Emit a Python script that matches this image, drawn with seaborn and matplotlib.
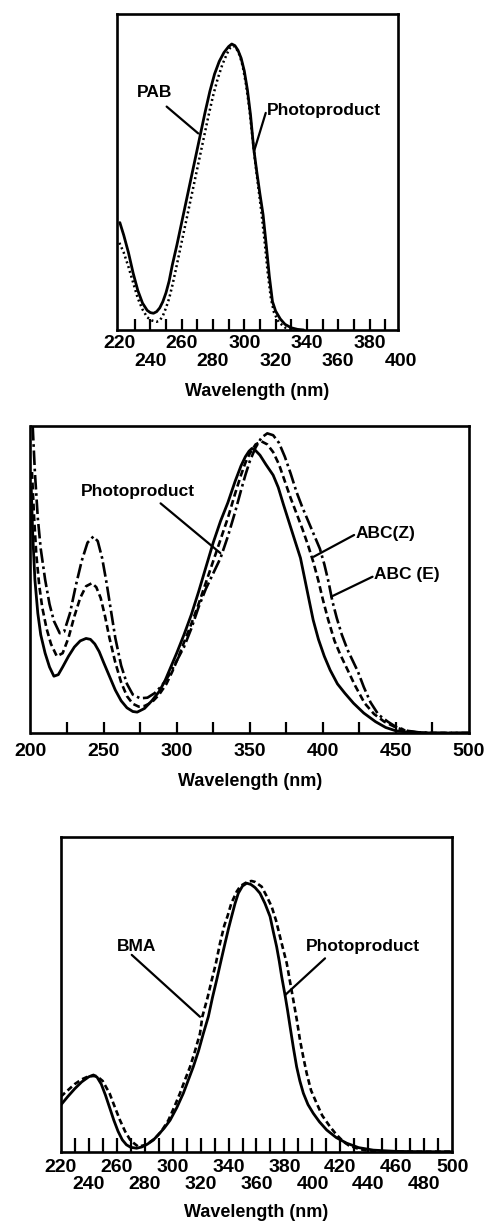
import numpy as np
import pandas as pd
import matplotlib
matplotlib.use('Agg')
import matplotlib.pyplot as plt
import seaborn as sns

# ---- panel 1: PAB vs photoproduct ----
pab_wl = [220.5, 223, 226, 229, 232, 235, 238, 240, 242, 244, 246, 248, 250, 252, 254, 257, 260, 263, 266, 269,
          272, 275, 278, 281, 284, 287, 290, 292, 294, 296, 298, 300, 302, 304, 306, 308, 310, 312, 314, 316,
          318, 320, 323, 326, 330, 334, 338]
pab_abs = [0.34, 0.30, 0.245, 0.18, 0.125, 0.085, 0.062, 0.055, 0.053, 0.058, 0.07, 0.09, 0.118, 0.155, 0.205, 0.27,
           0.34, 0.41, 0.48, 0.55, 0.62, 0.69, 0.755, 0.81, 0.85, 0.878, 0.897, 0.905, 0.90, 0.885, 0.86, 0.82,
           0.76, 0.68, 0.575, 0.50, 0.43, 0.365, 0.27, 0.17, 0.09, 0.06, 0.035, 0.018, 0.007, 0.002, 0.0]
pabpp_wl = [220.2, 223, 226, 229, 232, 235, 238, 241, 244, 246, 248, 250, 252, 254, 256, 259, 262, 265, 268, 271,
            274, 277, 280, 283, 286, 289, 291, 293, 295, 297, 299, 301, 303, 305, 307, 309, 311, 313, 315, 317,
            319, 322, 326, 330, 333]
pabpp_abs = [0.276, 0.245, 0.20, 0.15, 0.10, 0.065, 0.04, 0.03, 0.026, 0.03, 0.045, 0.07, 0.10, 0.14, 0.185, 0.255,
             0.325, 0.395, 0.465, 0.535, 0.605, 0.675, 0.74, 0.795, 0.84, 0.875, 0.893, 0.90, 0.89, 0.87, 0.835,
             0.78, 0.71, 0.62, 0.53, 0.45, 0.37, 0.28, 0.18, 0.10, 0.055, 0.025, 0.008, 0.002, 0.0]
p1_row1 = [220, 260, 300, 340, 380]
p1_row2 = [240, 280, 320, 360, 400]

# ---- panel 2: photoproduct, ABC(Z), ABC(E) ----
pp2_wl = [200.5, 201.5, 203, 205, 207, 210, 213, 216, 219, 222, 226, 230, 234, 238, 241, 244, 247, 250, 254, 258,
          262, 266, 270, 273, 278, 283, 288, 292, 296, 300, 305, 310, 315, 320, 325, 330, 335, 340, 344, 347,
          349.5, 351.5, 354, 357, 361, 366, 369.5, 373, 377, 381, 384.7, 387.5, 390.5, 393.4, 397, 401, 405, 410,
          415, 421, 428, 436, 443, 450, 460, 475, 500]
pp2_abs = [0.80, 0.65, 0.50, 0.39, 0.32, 0.26, 0.215, 0.185, 0.19, 0.215, 0.25, 0.28, 0.30, 0.308, 0.305, 0.29,
           0.265, 0.23, 0.185, 0.14, 0.105, 0.082, 0.07, 0.068, 0.08, 0.105, 0.135, 0.17, 0.215, 0.26, 0.32, 0.385,
           0.46, 0.54, 0.62, 0.69, 0.75, 0.82, 0.87, 0.90, 0.918, 0.927, 0.92, 0.905, 0.875, 0.84, 0.80, 0.745,
           0.685, 0.625, 0.57, 0.505, 0.435, 0.368, 0.305, 0.25, 0.205, 0.16, 0.13, 0.097, 0.065, 0.037, 0.018,
           0.007, 0.002, 0.0, 0.0]
abcz_wl = [201, 202.5, 204, 206, 208, 211, 214, 218, 222, 226, 230, 234, 238, 242, 245, 248, 251, 254, 258, 262,
           266, 270, 274, 278, 283, 288, 293, 297, 301, 305, 310, 315, 320, 325, 330, 335, 340, 344, 347, 350,
           354, 358, 362, 366, 370, 374, 378, 382, 386, 390, 393.6, 397, 400, 403.6, 408, 412, 417, 422, 428.6,
           435, 442, 450, 458, 466, 475, 500]
abcz_abs = [0.85, 0.70, 0.58, 0.48, 0.41, 0.34, 0.29, 0.25, 0.26, 0.31, 0.38, 0.44, 0.478, 0.488, 0.475, 0.44,
            0.38, 0.31, 0.23, 0.165, 0.12, 0.095, 0.086, 0.088, 0.10, 0.125, 0.16, 0.20, 0.245, 0.295, 0.355,
            0.42, 0.49, 0.56, 0.63, 0.70, 0.78, 0.84, 0.88, 0.91, 0.94, 0.95, 0.94, 0.915, 0.875, 0.82, 0.765,
            0.715, 0.665, 0.61, 0.555, 0.495, 0.435, 0.37, 0.30, 0.255, 0.205, 0.155, 0.097, 0.062, 0.037, 0.018,
            0.006, 0.001, 0.0, 0.0]
abce_wl = [201.5, 203, 205, 207, 210, 213, 216, 220, 223, 227, 231, 235, 239, 243, 246, 249, 252, 255, 258, 262,
           266, 270, 275, 280, 285, 290, 295, 300, 305, 310, 315, 320, 325, 330, 335, 340, 344, 347, 350, 354,
           358, 362, 366, 370, 374, 378, 382, 386, 390, 394, 398, 401, 404, 406.5, 409.5, 413, 417, 420, 424, 428,
           432.6, 438, 444.4, 450, 458, 466, 475, 500]
abce_abs = [1.0, 0.85, 0.70, 0.60, 0.50, 0.42, 0.365, 0.325, 0.33, 0.39, 0.48, 0.56, 0.62, 0.64, 0.625, 0.57,
            0.49, 0.40, 0.31, 0.22, 0.16, 0.125, 0.113, 0.115, 0.13, 0.155, 0.19, 0.235, 0.28, 0.34, 0.41, 0.47,
            0.52, 0.57, 0.64, 0.72, 0.79, 0.84, 0.885, 0.93, 0.962, 0.976, 0.97, 0.945, 0.90, 0.845, 0.785, 0.735,
            0.69, 0.645, 0.60, 0.55, 0.49, 0.43, 0.375, 0.32, 0.27, 0.24, 0.20, 0.15, 0.10, 0.06, 0.037, 0.02,
            0.007, 0.002, 0.0, 0.0]
p2_labels = [200, 250, 300, 350, 400, 450, 500]

# ---- panel 3: BMA vs photoproduct ----
bma_wl = [220, 225, 230, 235, 240, 245.7, 250, 255, 258, 262.4, 266, 270, 275.5, 281, 287.4, 292, 297, 301, 305.3,
          309, 312.5, 316, 319.6, 321.3, 325, 328, 331, 333.9, 337, 339.2, 342, 345.8, 348.5, 351.8, 354,
          356.5, 359, 363.7, 367, 370.8, 374, 376.8, 379, 381.6, 384, 386.3, 388.8, 391.1, 393.5, 395.9, 399,
          403, 407, 412.5, 417, 422.1, 426, 431.6, 437, 443.5, 455, 470, 500]
bma_abs = [0.175, 0.195, 0.215, 0.23, 0.24, 0.241, 0.225, 0.185, 0.15, 0.10, 0.065, 0.035, 0.016, 0.022, 0.042,
           0.065, 0.10, 0.14, 0.186, 0.23, 0.27, 0.32, 0.376, 0.43, 0.49, 0.546, 0.60, 0.663, 0.72, 0.748, 0.79,
           0.827, 0.845, 0.854, 0.859, 0.861, 0.858, 0.843, 0.815, 0.78, 0.735, 0.684, 0.645, 0.60, 0.54,
           0.483, 0.42, 0.355, 0.30, 0.249, 0.195, 0.154, 0.115, 0.08, 0.055, 0.032, 0.02, 0.011, 0.005, 0.002,
           0.0, 0.0, 0.0]
bmapp_wl = [220, 225, 230, 235, 240, 243.4, 246, 249, 252, 255, 258, 261, 264, 267, 270, 274.3, 278, 282, 286.2,
            290, 294, 298.2, 303, 307.7, 311, 314.8, 318.5, 322, 325.6, 328.5, 331.5, 334.5, 337.5, 340, 342.2,
            344.7, 347, 350, 353, 356, 359, 362.5, 366, 369.7, 372, 374.4, 376.3, 378, 380.4, 382.2, 384,
            386.4, 388.7, 391, 393.5, 396.8, 400.6, 405, 410.2, 417, 424.5, 433, 443.5, 460, 480, 500]
bmapp_abs = [0.148, 0.175, 0.20, 0.222, 0.238, 0.244, 0.237, 0.215, 0.18, 0.14, 0.10, 0.065, 0.038, 0.022, 0.014,
             0.011, 0.015, 0.024, 0.037, 0.055, 0.075, 0.10, 0.14, 0.186, 0.225, 0.27, 0.32, 0.376, 0.43, 0.49,
             0.546, 0.605, 0.663, 0.71, 0.748, 0.79, 0.822, 0.845, 0.854, 0.85, 0.84, 0.822, 0.79, 0.748, 0.70,
             0.652, 0.605, 0.557, 0.498, 0.45, 0.398, 0.33, 0.27, 0.225, 0.186, 0.15, 0.122, 0.095, 0.069, 0.045,
             0.027, 0.013, 0.005, 0.001, 0.0, 0.0]
p3_row1 = [220, 260, 300, 340, 380, 420, 460, 500]
p3_row2 = [240, 280, 320, 360, 400, 440, 480]

sns.set_theme(style='white')
plt.rcParams['font.family'] = ['Liberation Sans', 'DejaVu Sans']
plt.rcParams['font.weight'] = 'bold'
plt.rcParams['text.color'] = 'black'
plt.rcParams['axes.labelcolor'] = 'black'
plt.rcParams['xtick.color'] = 'black'

fig = plt.figure(figsize=(4.89, 12.22), dpi=100)
W, H = 489, 1222


def make_ax(left, top, right, bottom):
    ax = fig.add_axes([left / W, 1 - bottom / H, (right - left) / W, (bottom - top) / H])
    for s in ax.spines.values():
        s.set_visible(True)
        s.set_color('black')
        s.set_linewidth(1.9)
    ax.set_yticks([])
    ax.set_ylim(0, 1)
    ax.set_facecolor('white')
    return ax


def curve(ax, x, y, ls, lw=2.0):
    df = pd.DataFrame({'wl': x, 'a': y})
    sns.lineplot(data=df, x='wl', y='a', ax=ax, color='black', linewidth=lw,
                 linestyle=ls, estimator=None, sort=False, legend=False)
    ax.set_xlabel('')
    ax.set_ylabel('')


def tick_text(ax, vals, off_px, size=14):
    for v in vals:
        ax.annotate(str(v), xy=(v, 0), xycoords=('data', 'axes fraction'),
                    xytext=(0, -off_px * 0.72), textcoords='offset points',
                    ha='center', va='center', fontsize=size, fontweight='bold',
                    color='black', annotation_clip=False)


def xlabel(ax, off_px):
    ax.annotate('Wavelength (nm)', xy=(0.5, 0), xycoords='axes fraction',
                xytext=(0, -off_px * 0.72), textcoords='offset points',
                ha='center', va='center', fontsize=13, fontweight='bold', color='black')


def leader(ax, start, tip):
    ax.annotate('', xy=tip, xytext=start,
                arrowprops=dict(arrowstyle='-', lw=1.6, color='black', shrinkA=0, shrinkB=0))


def label(ax, x, y, s, ha='left'):
    ax.text(x, y, s, ha=ha, va='center', fontsize=12.5, fontweight='bold', color='black')


# panel 1
ax1 = make_ax(116.7, 14, 397.7, 330)
ax1.set_xlim(218.5, 398)
curve(ax1, pab_wl, pab_abs, '-')
curve(ax1, pabpp_wl, pabpp_abs, (0, (0.8, 1.2)), lw=1.8)
ax1.set_xticks(np.arange(230, 400, 10), labels=[])
ax1.tick_params(axis='x', direction='in', length=8, width=1.6, color='black', bottom=True)
tick_text(ax1, p1_row1, 13)
tick_text(ax1, p1_row2, 32)
xlabel(ax1, 61)
label(ax1, 243, 0.75, 'PAB', ha='center')
leader(ax1, (250.4, 0.707), (270.6, 0.622))
label(ax1, 314.3, 0.696, 'Photoproduct')
leader(ax1, (313.7, 0.687), (306.2, 0.565))

# panel 2
ax2 = make_ax(30.5, 426, 469, 733)
ax2.set_xlim(200, 500)
curve(ax2, pp2_wl, pp2_abs, '-')
curve(ax2, abcz_wl, abcz_abs, (0, (2.6, 1.4)), lw=1.9)
curve(ax2, abce_wl, abce_abs, (0, (5.5, 1.4, 1.0, 1.4)), lw=1.9)
ax2.set_xticks(np.arange(225, 500, 25), labels=[])
ax2.tick_params(axis='x', direction='in', length=8, width=1.6, color='black', bottom=True)
tick_text(ax2, p2_labels, 19)
xlabel(ax2, 49)
label(ax2, 234.8, 0.786, 'Photoproduct')
leader(ax2, (289, 0.748), (329.9, 0.586))
label(ax2, 422.6, 0.65, 'ABC(Z)')
leader(ax2, (421.4, 0.645), (393.7, 0.574))
label(ax2, 435.2, 0.515, 'ABC (E)')
leader(ax2, (434, 0.509), (405.7, 0.444))

# panel 3
ax3 = make_ax(60.7, 837.3, 452.3, 1151.7)
ax3.set_xlim(220, 500)
curve(ax3, bmapp_wl, bmapp_abs, '-')
curve(ax3, bma_wl, bma_abs, (0, (2.2, 1.3)), lw=1.9)
ax3.set_xticks(np.arange(230, 500, 10), labels=[])
ax3.tick_params(axis='x', direction='in', length=10, width=1.6, color='black', bottom=True)
tick_text(ax3, p3_row1, 16)
tick_text(ax3, p3_row2, 33)
xlabel(ax3, 61)
label(ax3, 274.3, 0.654, 'BMA', ha='center')
leader(ax3, (270.8, 0.626), (319.6, 0.429))
label(ax3, 435.8, 0.654, 'Photoproduct', ha='center')
leader(ax3, (409, 0.615), (380.4, 0.498))

fig.savefig('out.png', dpi=100, facecolor='white')
